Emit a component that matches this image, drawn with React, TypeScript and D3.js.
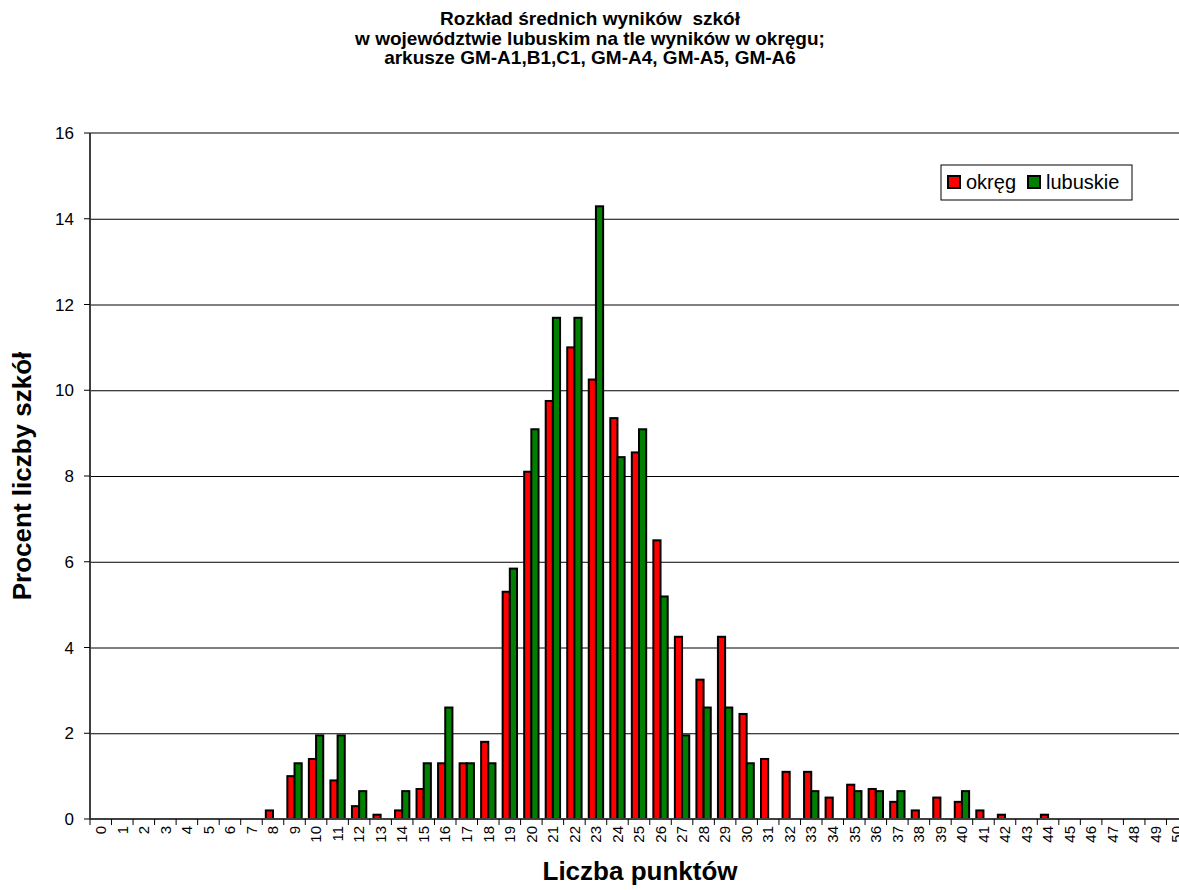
import React, { useEffect, useRef } from "react";
import * as d3 from "d3";

const categories = [
  "0", "1", "2", "3", "4", "5", "6", "7", "8", "9", "10", "11", "12", "13", "14", "15", "16",
  "17", "18", "19", "20", "21", "22", "23", "24", "25", "26", "27", "28", "29", "30", "31", "32",
  "33", "34", "35", "36", "37", "38", "39", "40", "41", "42", "43", "44", "45", "46", "47", "48",
  "49", "50",
];

const okreg = [
  0, 0, 0, 0, 0, 0, 0, 0, 0.2, 1.0, 1.4, 0.9, 0.3, 0.1, 0.2, 0.7, 1.3,
  1.3, 1.8, 5.3, 8.1, 9.75, 11.0, 10.25, 9.35, 8.55, 6.5, 4.25, 3.25, 4.25, 2.45, 1.4, 1.1,
  1.1, 0.5, 0.8, 0.7, 0.4, 0.2, 0.5, 0.4, 0.2, 0.1, 0, 0.1, 0, 0, 0, 0,
  0, 0,
];

const lubuskie = [
  0, 0, 0, 0, 0, 0, 0, 0, 0, 1.3, 1.95, 1.95, 0.65, 0, 0.65, 1.3, 2.6,
  1.3, 1.3, 5.84, 9.09, 11.69, 11.69, 14.29, 8.44, 9.09, 5.19, 1.95, 2.6, 2.6, 1.3, 0, 0,
  0.65, 0, 0.65, 0.65, 0.65, 0, 0, 0.65, 0, 0, 0, 0, 0, 0, 0, 0,
  0, 0,
];

const seriesNames = ["okręg", "lubuskie"];
const seriesColors = ["#ff0000", "#008000"];

const titleLines = [
  "Rozkład średnich wyników  szkół",
  "w województwie lubuskim na tle wyników w okręgu;",
  "arkusze GM-A1,B1,C1, GM-A4, GM-A5, GM-A6",
];

const yTicks = [0, 2, 4, 6, 8, 10, 12, 14, 16];

export default function App() {
  const ref = useRef<SVGSVGElement>(null);

  useEffect(() => {
    const width = 1179;
    const height = 890;
    const marginLeft = 90;
    const marginTop = 133;
    const plotBottom = 819;
    const plotRight = 1188;

    const svg = d3.select(ref.current);
    svg.selectAll("*").remove();
    svg.attr("width", width).attr("height", height);

    const font = "Arial, 'Liberation Sans', sans-serif";

    const x = d3.scaleBand(categories, [marginLeft, plotRight]).padding(0);
    const x1 = d3
      .scaleBand(seriesNames, [0, x.bandwidth()])
      .paddingInner(0)
      .paddingOuter(0.5);
    const y = d3.scaleLinear([0, 16], [plotBottom, marginTop]);

    // title (double space kept as in the original)
    svg
      .append("g")
      .selectAll("text")
      .data(titleLines)
      .join("text")
      .attr("x", 590)
      .attr("y", (d, i) => 25 + i * 19.5)
      .attr("text-anchor", "middle")
      .attr("font-family", font)
      .attr("font-weight", "bold")
      .attr("font-size", 19)
      .style("white-space", "pre")
      .text((d) => d);

    // gridlines
    svg
      .append("g")
      .selectAll("line")
      .data(yTicks.filter((t) => t > 0 && t < 16))
      .join("line")
      .attr("x1", marginLeft)
      .attr("x2", plotRight)
      .attr("y1", (d) => y(d) + 0.5)
      .attr("y2", (d) => y(d) + 0.5)
      .attr("stroke", "#000")
      .attr("stroke-width", 1);

    // top frame line
    svg
      .append("line")
      .attr("x1", marginLeft)
      .attr("x2", plotRight)
      .attr("y1", y(16))
      .attr("y2", y(16))
      .attr("stroke", "#808080")
      .attr("stroke-width", 2);

    // bars
    const rows = categories.map((c, i) => ({ c, vals: [okreg[i], lubuskie[i]] }));
    const groups = svg
      .append("g")
      .selectAll("g")
      .data(rows)
      .join("g")
      .attr("transform", (d) => `translate(${x(d.c)},0)`);
    groups
      .selectAll("rect")
      .data((d) =>
        d.vals
          .map((v, k) => ({ key: seriesNames[k], v, k }))
          .filter((e) => e.v > 0)
      )
      .join("rect")
      .attr("x", (d) => x1(d.key)!)
      .attr("width", x1.bandwidth())
      .attr("y", (d) => y(d.v))
      .attr("height", (d) => y(0) - y(d.v))
      .attr("fill", (d) => seriesColors[d.k])
      .attr("stroke", "#000")
      .attr("stroke-width", 2);

    // x axis
    const xAxis = svg
      .append("g")
      .attr("transform", `translate(0,${plotBottom})`);
    xAxis
      .append("line")
      .attr("x1", marginLeft)
      .attr("x2", plotRight)
      .attr("stroke", "#404040")
      .attr("stroke-width", 2);
    xAxis
      .selectAll("line.tick")
      .data(categories.concat(["end"]))
      .join("line")
      .attr("class", "tick")
      .attr("x1", (d, i) => marginLeft + i * x.step())
      .attr("x2", (d, i) => marginLeft + i * x.step())
      .attr("y1", 0)
      .attr("y2", 6)
      .attr("stroke", "#000")
      .attr("stroke-width", 1);
    xAxis
      .selectAll("text")
      .data(categories)
      .join("text")
      .attr(
        "transform",
        (d) => `translate(${x(d)! + x.bandwidth() / 2},7) rotate(-90)`
      )
      .attr("dy", "0.35em")
      .attr("text-anchor", "end")
      .attr("font-family", font)
      .attr("font-size", 15)
      .text((d) => d);

    // y axis
    const yAxis = svg.append("g");
    yAxis
      .append("line")
      .attr("x1", marginLeft)
      .attr("x2", marginLeft)
      .attr("y1", marginTop)
      .attr("y2", plotBottom)
      .attr("stroke", "#404040")
      .attr("stroke-width", 2);
    yAxis
      .selectAll("line.tick")
      .data(yTicks)
      .join("line")
      .attr("class", "tick")
      .attr("x1", marginLeft - 6)
      .attr("x2", marginLeft)
      .attr("y1", (d) => y(d))
      .attr("y2", (d) => y(d))
      .attr("stroke", "#000");
    yAxis
      .selectAll("text")
      .data(yTicks)
      .join("text")
      .attr("x", 74)
      .attr("y", (d) => y(d))
      .attr("dy", "0.36em")
      .attr("text-anchor", "end")
      .attr("font-family", font)
      .attr("font-size", 17)
      .text((d) => d);

    // axis titles
    svg
      .append("text")
      .attr("transform", `translate(31,476) rotate(-90)`)
      .attr("text-anchor", "middle")
      .attr("font-family", font)
      .attr("font-weight", "bold")
      .attr("font-size", 26)
      .text("Procent liczby szkół");
    svg
      .append("text")
      .attr("x", 640)
      .attr("y", 880)
      .attr("text-anchor", "middle")
      .attr("font-family", font)
      .attr("font-weight", "bold")
      .attr("font-size", 26)
      .text("Liczba punktów");

    // legend
    const legend = svg.append("g").attr("transform", "translate(941,165)");
    legend
      .append("rect")
      .attr("width", 191)
      .attr("height", 35)
      .attr("fill", "#fff")
      .attr("stroke", "#000")
      .attr("stroke-width", 1);
    const legendX = [7, 87];
    seriesNames.forEach((name, k) => {
      legend
        .append("rect")
        .attr("x", legendX[k])
        .attr("y", 11)
        .attr("width", 12)
        .attr("height", 12)
        .attr("fill", seriesColors[k])
        .attr("stroke", "#000")
        .attr("stroke-width", 2);
      legend
        .append("text")
        .attr("x", legendX[k] + 18)
        .attr("y", 24)
        .attr("font-family", font)
        .attr("font-size", 20)
        .text(name);
    });
  }, []);

  return (
    <svg
      ref={ref}
      style={{ position: "absolute", left: 0, top: 0, background: "#fff" }}
    />
  );
}
